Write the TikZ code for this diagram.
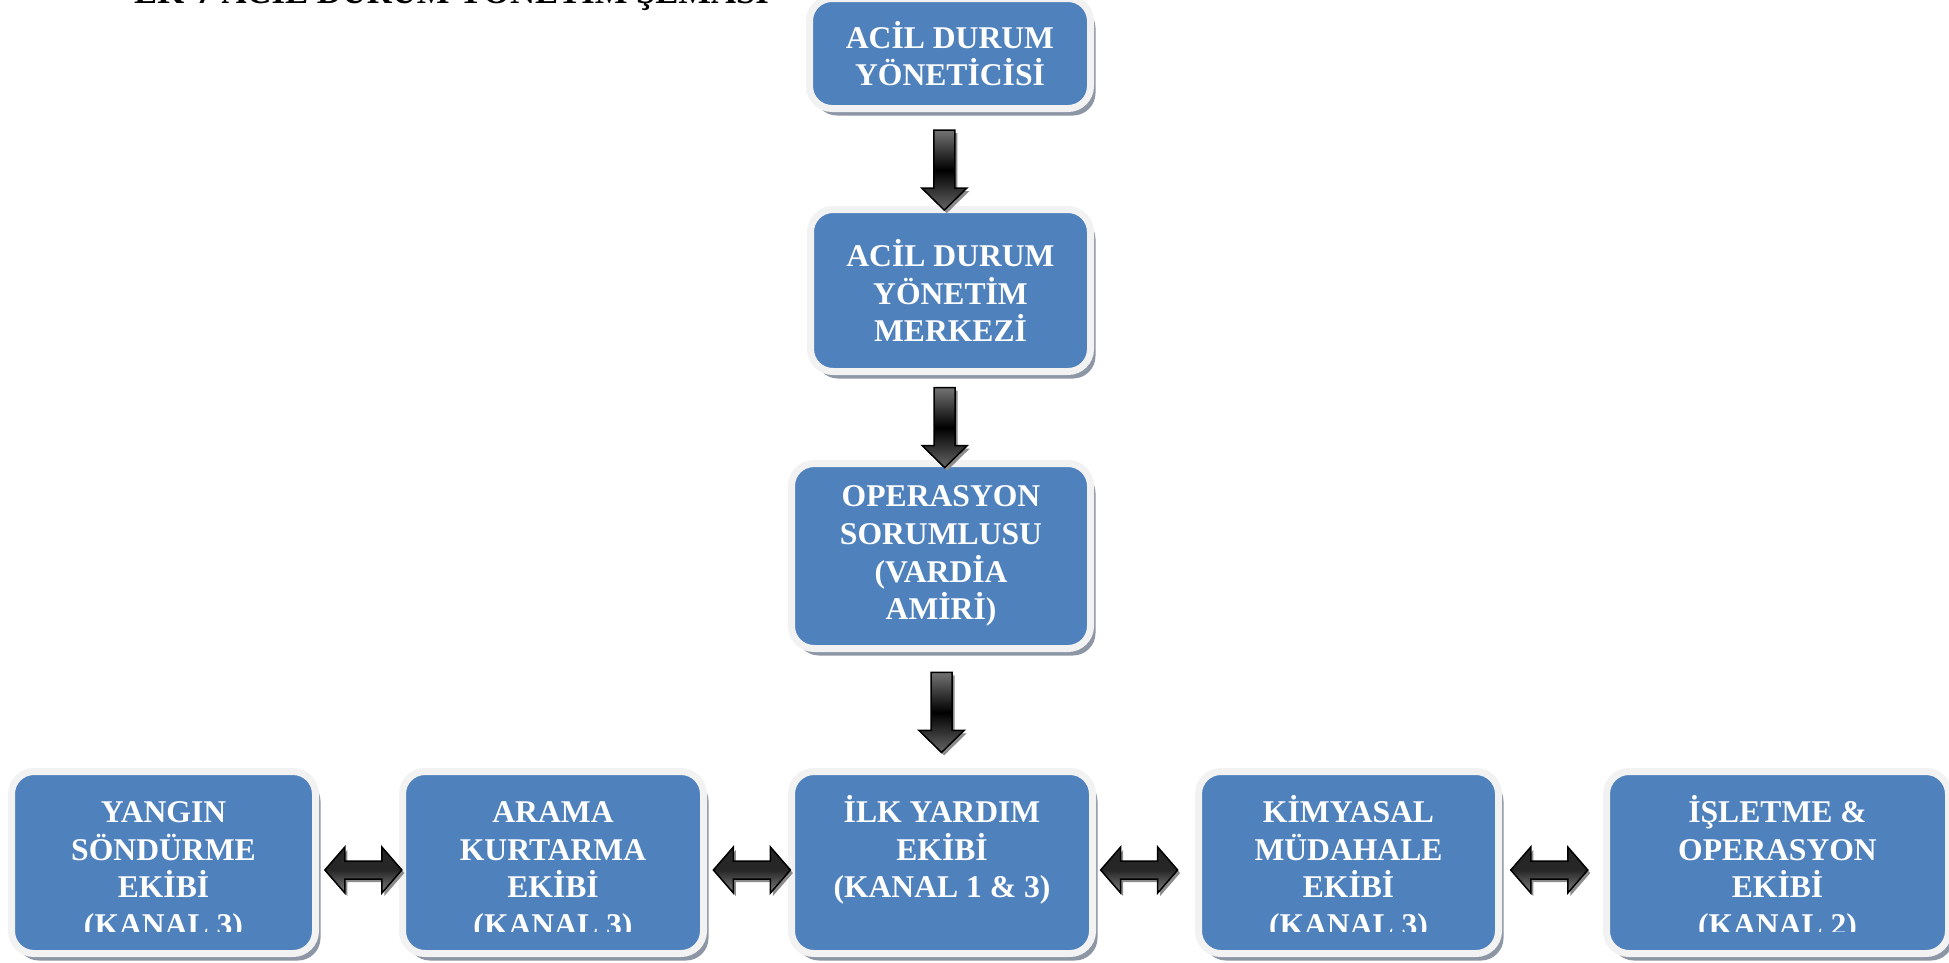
\documentclass[tikz,border=0pt]{standalone}
\usepackage{fontspec}
\setmainfont{Liberation Serif}
\usepackage{tikz}
\usetikzlibrary{
        calc,
        shadows
    }
\definecolor{boxblue}{HTML}{4F81BD}
\definecolor{boxrim}{HTML}{F2F2F2}
\definecolor{boxshade}{HTML}{8C96A5}
\newcommand{\linetop}{\rule{0pt}{16.5pt}}
\tikzset{box/.style={draw=boxrim,line width=0.14cm,fill=boxblue,rounded corners=0.45cm,outer sep=0pt,
        text=white,font=\fontsize{18}{21.5}\selectfont\bfseries,align=center,inner sep=0pt,
        drop shadow={shadow xshift=0.1cm,shadow yshift=-0.14cm,fill=boxshade,opacity=1}}}
\tikzset{boxtext/.style={text=white,font=\fontsize{18}{21.5}\selectfont\bfseries,align=center,inner sep=0pt,
        anchor=north}}
\tikzset{arrowlook/.style={draw=black,line width=0.03cm,top color=black!55,bottom color=black!60,middle color=black,
        drop shadow={shadow xshift=0.05cm,shadow yshift=-0.06cm,fill=black!45,opacity=1}}}
\tikzset{downarrow/.pic={\path[arrowlook] (-0.21,0.8) -- (0.21,0.8) -- (0.21,-0.36) -- (0.45,-0.36)
        -- (0,-0.8) -- (-0.45,-0.36) -- (-0.21,-0.36) -- cycle;}}
\tikzset{bothways/.pic={\path[arrowlook,top color=black!85,bottom color=black!50,middle color=black!85]
        (-0.77,0) -- (-0.37,0.46) -- (-0.37,0.18) -- (0.37,0.18) -- (0.37,0.46) -- (0.77,0)
        -- (0.37,-0.46) -- (0.37,-0.18) -- (-0.37,-0.18) -- (-0.37,-0.46) -- cycle;}}

\begin{document}
\begin{tikzpicture}
    \useasboundingbox (0,0) rectangle (38.98,-19.24);
    \node[anchor=base west,font=\fontsize{19.7}{24}\selectfont\bfseries] (title) at (2.56,-0.06) {EK-7 ACİL DURUM YÖNETİM ŞEMASI};

    \node[box,minimum width=5.62cm,minimum height=2.2cm] (b1) at (19.0,-1.07) {ACİL DURUM\\YÖNETİCİSİ};
    \node[box,minimum width=5.6cm,minimum height=3.24cm] (b2) at (19.01,-5.81) {ACİL DURUM\\YÖNETİM\\MERKEZİ};
    \node[box,minimum width=5.98cm,minimum height=3.7cm] (b3) at (18.82,-11.12) {OPERASYON\\SORUMLUSU\\(VARDİA\\AMİRİ)};

    \node[box,minimum width=6.08cm,minimum height=3.64cm] (yangin) at (3.27,-17.25) {};
    \node[box,minimum width=6.02cm,minimum height=3.64cm] (arama) at (11.06,-17.25) {};
    \node[box,minimum width=6.02cm,minimum height=3.64cm] (ilk) at (18.84,-17.25) {};
    \node[box,minimum width=6.0cm,minimum height=3.64cm] (kimya) at (26.97,-17.25) {};
    \node[box,minimum width=6.84cm,minimum height=3.64cm] (isletme) at (35.55,-17.25) {};

    % text boxes are cut off at the bottom
    \begin{scope}
        \clip (0,-15.3) rectangle (38.98,-18.62);
        \node[boxtext] (yanginT) at ([yshift=-0.43cm]yangin.north) {\linetop YANGIN\\SÖNDÜRME\\EKİBİ\\(KANAL 3)};
        \node[boxtext] (aramaT) at ([yshift=-0.43cm]arama.north) {\linetop ARAMA\\KURTARMA\\EKİBİ\\(KANAL 3)};
        \node[boxtext] (ilkT) at ([yshift=-0.43cm]ilk.north) {\linetop İLK YARDIM\\EKİBİ\\(KANAL 1 \& 3)};
        \node[boxtext] (kimyaT) at ([yshift=-0.43cm]kimya.north) {\linetop KİMYASAL\\MÜDAHALE\\EKİBİ\\(KANAL 3)};
        \node[boxtext] (isletmeT) at ([yshift=-0.43cm]isletme.north) {\linetop İŞLETME \&\\OPERASYON\\EKİBİ\\(KANAL 2)};
    \end{scope}

    \path (b1.south) -- coordinate[pos=.61] (d1) (b2.north);
    \path (b2.south) -- coordinate[pos=.61] (d2) (b3.north);
    \path (b3.south) -- coordinate[pos=.52] (d3) (ilk.north);
    \pic at ([xshift=-0.12cm]d1) {downarrow};
    \pic at (d2) {downarrow};
    \pic at (d3) {downarrow};

    \foreach \l/\r/\p in {yangin/arama/.55,arama/ilk/.55,ilk/kimya/.44,kimya/isletme/.47}
    {
        \path (\l.east) -- coordinate[pos=\p] (h) (\r.west);
        \pic at ([yshift=-0.15cm]h) {bothways};
    }
\end{tikzpicture}
\end{document}
